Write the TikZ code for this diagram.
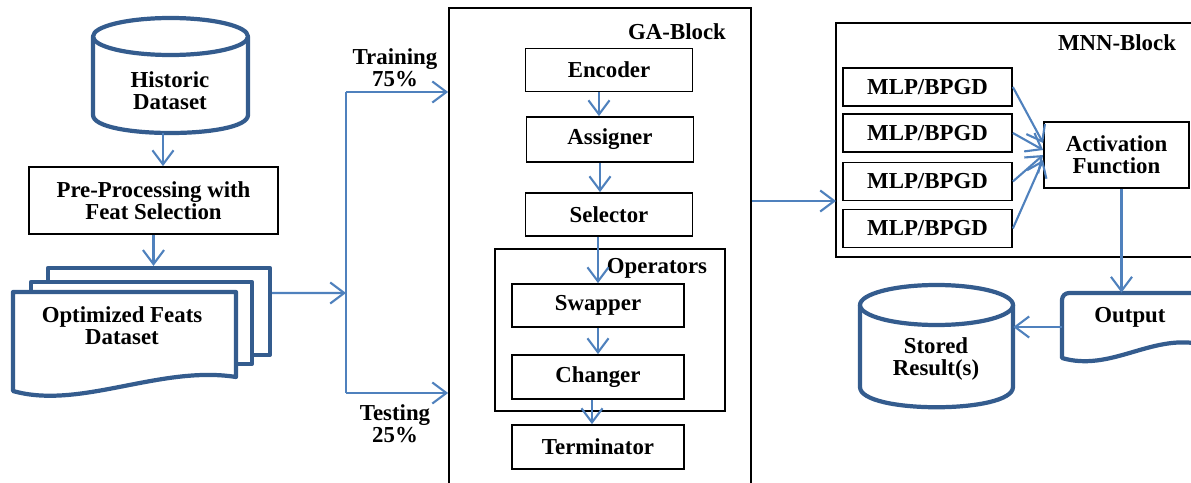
\documentclass[tikz,border=0pt]{standalone}
\usepackage{fontspec}
\setmainfont{Liberation Serif}
\usetikzlibrary{arrows.meta,calc}
\definecolor{flowblue}{RGB}{79,129,189}
\definecolor{docblue}{RGB}{52,92,142}
\tikzset{
  lbl/.style={font=\fontsize{13}{12.5}\selectfont\bfseries, align=center, inner sep=0pt},
  blkbox/.style={draw=black, line width=1pt, fill=white, lbl},
  ghost/.style={inner sep=0pt},
  docline/.style={draw=docblue, line width=2.4pt, line join=round},
  flowline/.style={draw=flowblue, line width=1.2pt},
  flow/.style={flowline, -{Straight Barb[length=8pt,width=12pt,line width=1.2pt]}},
}
\begin{document}
\begin{tikzpicture}[x=0.02cm,y=-0.02cm]
\useasboundingbox (0,0) rectangle (1191,483);
\clip (0,0) rectangle (1191,483);

% input side
\node[ghost, minimum width=3.1cm, minimum height=2.3cm] (hist) at (170.5,75.5) {};
\draw[docline, fill=white] (93,36.5) -- (93,115) .. controls (93,139) and (248,139) .. (248,115) -- (248,36.5);
\draw[docline, fill=white] (170.5,36.5) ellipse [x radius=77.5, y radius=18.5];
\node[lbl] (histtxt) at (170,91) {Historic\\Dataset};

\node[blkbox, minimum width=4.98cm, minimum height=1.34cm] (pre) at (153.5,200.5) {Pre-Processing with\\Feat Selection};
\draw[flow] ([xshift=0.19cm]pre.north |- hist.south) -- ([xshift=0.19cm]pre.north);

\node[docline, fill=white, minimum width=4.44cm, minimum height=1.74cm] (optback) at (159,311.5) {};
\node[docline, fill=white, minimum width=4.42cm, minimum height=1.64cm] (optmid) at (141.5,323) {};
\draw[docline, fill=white] (13,292) -- (236,292) -- (236,377) .. controls (160,365) and (80,410) .. (13,391) -- cycle;
\node[lbl] (opt) at (122,326) {Optimized Feats\\Dataset};
\draw[flow] (pre.south) -- (pre.south |- optback.north);

% split into training and testing
\coordinate (split) at (346,293);
\coordinate (trn) at (346,92);
\coordinate (tst) at (346,393);
\draw[flow] ([yshift=0.37cm]optback.east) -- (split);
\draw[flowline] (trn) -- (tst);
\node[lbl] (trnlbl) at (395,68) {Training\\75\%};
\node[lbl] (tstlbl) at (395,424) {Testing\\25\%};

% GA block
\node[draw=black, line width=1pt, inner sep=0pt, minimum width=6.04cm, minimum height=9.84cm] (ga) at (600,254) {};
\node[lbl] (galbl) at (677,32) {GA-Block};
\draw[flow] (trn) -- (trn -| ga.west);
\draw[flow] (tst) -- (tst -| ga.west);

\node[blkbox, minimum width=3.34cm, minimum height=0.86cm] (enc) at (609,70) {Encoder};
\node[blkbox, minimum width=3.34cm, minimum height=0.9cm] (asg) at (610,139.5) {Assigner};
\node[blkbox, minimum width=3.34cm, minimum height=0.86cm] (sel) at (609,214.5) {Selector};
\node[draw=black, line width=1pt, inner sep=0pt, minimum width=4.6cm, minimum height=3.24cm] (ops) at (610,330) {};
\node[lbl] (opslbl) at (657,268) {Operators};
\node[blkbox, minimum width=3.44cm, minimum height=0.86cm] (swp) at (598,305.5) {Swapper};
\node[blkbox, minimum width=3.44cm, minimum height=0.88cm] (chg) at (598,377) {Changer};
\node[blkbox, minimum width=3.44cm, minimum height=0.88cm] (trm) at (598,447) {Terminator};

\draw[flow] ([xshift=-0.2cm]enc.south) -- ([xshift=-0.2cm]enc.south |- asg.north);
\draw[flow] ([xshift=-0.2cm]asg.south) -- ([xshift=-0.2cm]asg.south |- sel.north);
\draw[flow] (sel.south -| swp.north) -- (swp.north);
\draw[flow] (swp.south) -- (chg.north);
\draw[flow] ([xshift=-0.12cm]chg.south) -- ([xshift=-0.12cm]trm.north);

% MNN block
\node[draw=black, line width=1pt, inner sep=0pt, minimum width=7.48cm, minimum height=4.68cm] (mnn) at (1023,140) {};
\node[lbl] (mnnlbl) at (1117,43) {MNN-Block};
\coordinate (mnnin) at (836,201);
\draw[flow] (mnnin -| ga.east) -- (mnnin);

\node[blkbox, minimum width=3.38cm, minimum height=0.76cm] (mlp1) at (927.5,87) {MLP/BPGD};
\node[blkbox, minimum width=3.38cm, minimum height=0.76cm] (mlp2) at (927.5,133) {MLP/BPGD};
\node[blkbox, minimum width=3.38cm, minimum height=0.76cm] (mlp3) at (927.5,181.5) {MLP/BPGD};
\node[blkbox, minimum width=3.38cm, minimum height=0.76cm] (mlp4) at (927.5,228.5) {MLP/BPGD};
\node[blkbox, minimum width=2.9cm, minimum height=1.32cm] (act) at (1116.5,155) {Activation\\Function};

\draw[flow] (mlp1.east) -- ([yshift=0.24cm]act.west);
\draw[flow] (mlp2.east) -- ([yshift=0.1cm]act.west);
\draw[flow] (mlp3.east) -- (act.west);
\draw[flow] (mlp4.east) -- ([yshift=-0.1cm]act.west);

% output and storage
\node[ghost, minimum width=2.76cm, minimum height=1.3cm] (outdoc) at (1131,325.5) {};
\draw[docline, fill=white] (1205,345) .. controls (1150,335) and (1110,372) .. (1062,358) [rounded corners=4pt]-- (1062,293) -- (1205,293) -- cycle;
\node[lbl] (outtxt) at (1130,317) {Output};
\draw[flow] ([xshift=0.1cm]act.south) -- ([xshift=0.1cm]act.south |- outdoc.north);

\node[ghost, minimum width=3.06cm, minimum height=2.44cm] (stored) at (936.5,346) {};
\draw[docline, fill=white] (860,305) -- (860,387) .. controls (860,414) and (1013,414) .. (1013,387) -- (1013,305);
\draw[docline, fill=white] (936.5,305) ellipse [x radius=76.5, y radius=20];
\node[lbl] (storedtxt) at (936,359) {Stored\\Result(s)};
\draw[flow] ([yshift=-0.03cm]outdoc.west) -- ([yshift=-0.03cm]outdoc.west -| stored.east);

\end{tikzpicture}
\end{document}
